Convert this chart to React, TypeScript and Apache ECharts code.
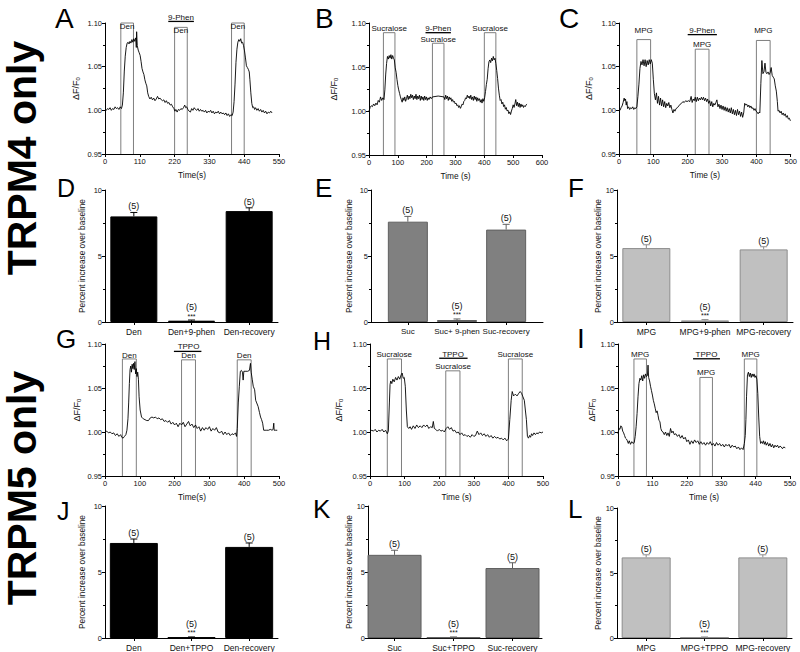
import React, { useEffect, useRef } from "react";
import * as echarts from "echarts";

const FONT = "'Liberation Sans', Arial, Helvetica, sans-serif";

// ---------- Calcium imaging traces: [time (s), ΔF/F0] ----------
const traceA = [[0,1.001],[4,1.000],[8,1.002],[12,1.001],[16,1.003],[20,1.000],[24,1.002],[28,1.001],[32,1.004],[36,1.002],[40,1.003],[44,1.001],[48,1.004],[52,1.002],[55,1.006],[58,1.020],[61,1.045],[64,1.062],[67,1.072],[70,1.077],[73,1.078],[76,1.076],[79,1.079],[82,1.077],[85,1.081],[88,1.078],[91,1.082],[94,1.079],[97,1.083],[99,1.072],[100,1.090],[102,1.074],[105,1.069],[108,1.066],[111,1.063],[114,1.056],[117,1.048],[120,1.044],[123,1.041],[126,1.035],[129,1.031],[132,1.028],[135,1.020],[138,1.016],[142,1.013],[146,1.015],[150,1.012],[154,1.014],[158,1.011],[162,1.013],[166,1.016],[170,1.013],[174,1.014],[178,1.012],[182,1.011],[186,1.012],[190,1.009],[194,1.011],[198,1.008],[202,1.009],[206,1.006],[210,1.007],[214,1.004],[218,1.002],[221,0.999],[224,1.001],[228,0.998],[232,1.001],[236,1.000],[240,1.002],[244,1.001],[248,1.003],[252,1.006],[255,1.003],[258,1.004],[262,1.001],[266,0.999],[270,0.998],[274,1.002],[278,1.000],[282,1.003],[286,1.001],[290,1.000],[294,1.002],[298,0.999],[302,1.001],[306,0.999],[310,1.000],[314,0.998],[318,1.000],[322,0.997],[326,0.999],[330,0.998],[334,1.000],[338,0.997],[342,0.999],[346,0.996],[350,0.998],[354,0.997],[358,0.999],[362,0.996],[366,0.998],[370,0.996],[374,0.997],[378,0.995],[382,0.997],[386,0.994],[390,0.996],[394,0.993],[398,0.995],[402,0.994],[405,0.998],[408,1.010],[411,1.030],[414,1.055],[417,1.070],[420,1.078],[423,1.081],[426,1.079],[429,1.082],[432,1.077],[435,1.078],[438,1.074],[441,1.068],[444,1.060],[447,1.051],[450,1.049],[453,1.047],[456,1.044],[458,1.035],[461,1.020],[464,1.008],[467,1.003],[470,1.004],[473,1.001],[476,1.003],[480,1.000],[484,1.002],[488,0.999],[492,1.001],[496,0.998],[500,1.000],[504,0.997],[508,0.999],[512,0.996],[516,0.998],[520,0.997],[524,0.999],[528,0.997]];

const traceB = [[0,1.000],[4,1.004],[8,1.006],[12,1.005],[16,1.008],[20,1.006],[24,1.009],[28,1.007],[32,1.012],[36,1.010],[40,1.016],[44,1.012],[48,1.015],[52,1.013],[55,1.024],[58,1.042],[61,1.054],[64,1.062],[67,1.059],[70,1.063],[73,1.060],[76,1.064],[79,1.059],[82,1.063],[85,1.060],[88,1.058],[91,1.049],[94,1.044],[97,1.036],[100,1.029],[103,1.024],[106,1.020],[109,1.016],[112,1.013],[115,1.010],[118,1.015],[121,1.012],[124,1.016],[127,1.011],[130,1.014],[133,1.018],[136,1.013],[139,1.017],[142,1.014],[145,1.019],[148,1.015],[151,1.018],[154,1.013],[157,1.017],[160,1.014],[163,1.019],[166,1.013],[169,1.017],[172,1.014],[175,1.018],[178,1.012],[181,1.017],[184,1.013],[187,1.016],[190,1.012],[193,1.017],[196,1.013],[199,1.016],[202,1.012],[205,1.015],[208,1.013],[212,1.016],[216,1.014],[220,1.016],[240,1.017],[260,1.016],[263,1.013],[266,1.018],[269,1.014],[272,1.017],[275,1.012],[278,1.016],[281,1.013],[284,1.015],[287,1.011],[290,1.013],[293,1.010],[296,1.011],[299,1.008],[302,1.009],[305,1.006],[308,1.007],[311,1.004],[314,1.006],[317,1.003],[320,1.005],[323,1.008],[326,1.007],[329,1.011],[332,1.012],[335,1.015],[338,1.014],[341,1.018],[344,1.015],[347,1.017],[350,1.014],[353,1.018],[356,1.013],[359,1.016],[362,1.012],[365,1.017],[368,1.013],[371,1.016],[374,1.011],[377,1.015],[380,1.012],[383,1.014],[386,1.010],[389,1.013],[392,1.009],[395,1.014],[398,1.011],[401,1.015],[404,1.022],[407,1.030],[410,1.036],[413,1.048],[416,1.056],[419,1.058],[422,1.055],[425,1.060],[428,1.057],[431,1.062],[434,1.058],[437,1.060],[440,1.054],[443,1.046],[446,1.037],[449,1.026],[452,1.018],[455,1.012],[458,1.013],[461,1.008],[464,1.010],[467,1.005],[470,1.007],[473,1.002],[476,1.004],[479,1.000],[482,1.001],[485,0.997],[488,0.999],[491,0.996],[494,1.000],[497,1.003],[500,1.007],[503,1.004],[506,1.008],[509,1.013],[512,1.006],[515,1.010],[518,1.005],[521,1.009],[524,1.004],[527,1.008],[530,1.005],[533,1.007],[536,1.004],[539,1.006],[542,1.005],[545,1.007],[548,1.008]];

const traceC = [[0,1.001],[3,1.000],[6,1.003],[9,1.005],[12,1.009],[15,1.014],[17,1.011],[19,1.013],[21,1.006],[23,1.010],[25,1.002],[28,1.004],[31,1.001],[34,1.003],[37,1.002],[40,1.004],[43,1.001],[46,1.003],[49,1.002],[52,1.004],[55,1.016],[58,1.030],[61,1.048],[64,1.056],[67,1.052],[70,1.058],[73,1.051],[76,1.058],[79,1.050],[82,1.057],[85,1.052],[88,1.058],[91,1.053],[94,1.058],[97,1.054],[100,1.035],[103,1.019],[106,1.012],[109,1.020],[112,1.008],[115,1.016],[118,1.006],[121,1.014],[124,1.005],[127,1.012],[130,1.004],[133,1.010],[136,1.003],[139,1.008],[142,1.005],[145,1.009],[148,1.003],[151,1.006],[154,1.001],[157,0.997],[160,1.001],[163,0.999],[166,1.002],[170,1.003],[174,1.005],[178,1.007],[182,1.008],[186,1.010],[190,1.009],[194,1.011],[198,1.010],[202,1.011],[206,1.010],[210,1.016],[213,1.009],[216,1.013],[219,1.011],[222,1.015],[225,1.010],[228,1.015],[231,1.011],[234,1.014],[237,1.012],[240,1.015],[243,1.012],[246,1.015],[249,1.011],[252,1.014],[255,1.010],[258,1.013],[261,1.008],[264,1.011],[267,1.005],[270,1.010],[273,1.004],[276,1.008],[279,1.006],[282,1.009],[285,1.012],[288,1.004],[291,1.007],[294,1.002],[297,1.006],[300,1.001],[303,1.005],[306,1.000],[309,1.004],[312,0.999],[315,1.003],[318,0.998],[321,1.002],[324,0.997],[327,1.003],[330,0.996],[333,1.001],[336,0.995],[339,1.000],[342,0.994],[345,1.001],[348,0.995],[351,0.999],[354,0.993],[357,0.998],[360,0.992],[363,0.997],[366,1.008],[369,1.006],[372,1.007],[375,1.004],[378,1.006],[381,1.003],[384,1.005],[387,1.002],[390,1.003],[393,1.000],[396,1.002],[399,0.999],[402,0.998],[405,0.996],[408,0.998],[410,0.997],[413,1.031],[416,1.057],[419,1.042],[422,1.044],[425,1.054],[428,1.043],[431,1.042],[434,1.044],[437,1.041],[440,1.043],[443,1.049],[446,1.040],[449,1.038],[452,1.036],[455,1.028],[458,1.022],[461,1.010],[463,0.999],[466,1.000],[469,0.997],[472,0.999],[475,0.995],[478,0.997],[481,0.994],[484,0.996],[487,0.992],[490,0.994],[493,0.990],[496,0.991],[499,0.988]];

const traceG = [[0,1.000],[5,1.001],[10,0.999],[15,1.000],[20,0.998],[25,0.999],[30,0.996],[35,0.998],[40,0.995],[45,0.997],[48,0.994],[52,0.993],[56,0.995],[60,0.997],[63,1.002],[66,1.015],[68,1.033],[70,1.055],[72,1.071],[74,1.075],[76,1.068],[78,1.077],[80,1.072],[82,1.078],[84,1.071],[86,1.080],[88,1.066],[90,1.072],[92,1.063],[94,1.068],[96,1.060],[98,1.040],[101,1.025],[105,1.017],[110,1.015],[115,1.014],[120,1.013],[125,1.013],[130,1.016],[135,1.017],[140,1.016],[145,1.017],[150,1.015],[155,1.016],[160,1.014],[165,1.015],[170,1.012],[175,1.013],[180,1.011],[185,1.013],[190,1.009],[195,1.011],[200,1.008],[205,1.010],[210,1.006],[215,1.010],[220,1.008],[225,1.011],[230,1.006],[235,1.009],[240,1.012],[245,1.007],[250,1.009],[255,1.005],[260,1.008],[265,1.004],[270,1.006],[275,1.001],[280,1.005],[285,1.002],[290,1.005],[295,1.003],[300,1.006],[305,1.001],[310,1.004],[315,1.002],[320,1.005],[325,1.000],[330,0.999],[335,1.001],[340,0.997],[345,1.000],[350,0.997],[355,0.999],[360,0.996],[365,0.998],[370,0.997],[375,0.999],[378,0.995],[380,1.004],[383,1.033],[386,1.052],[389,1.069],[392,1.070],[395,1.068],[397,1.059],[399,1.069],[405,1.069],[410,1.069],[415,1.070],[418,1.078],[420,1.068],[423,1.060],[426,1.052],[430,1.048],[433,1.036],[436,1.033],[440,1.029],[444,1.022],[447,1.017],[450,1.014],[453,1.010],[456,1.002],[460,1.002],[465,1.002],[470,1.002],[475,1.003],[480,1.002],[483,1.003],[485,1.010],[486,1.002],[490,1.002],[495,1.002]];

const traceH = [[0,1.000],[5,1.002],[10,1.001],[15,1.003],[20,1.000],[25,1.002],[30,1.001],[35,1.003],[40,1.000],[45,1.002],[50,0.998],[53,1.001],[56,1.033],[58,1.054],[60,1.058],[63,1.055],[66,1.060],[70,1.057],[74,1.062],[78,1.059],[82,1.063],[86,1.060],[90,1.065],[93,1.067],[96,1.061],[99,1.062],[102,1.052],[105,1.025],[108,1.006],[112,1.004],[116,1.006],[120,1.003],[125,1.007],[130,1.004],[135,1.008],[140,1.005],[145,1.007],[150,1.005],[155,1.008],[160,1.006],[165,1.008],[170,1.004],[175,1.006],[180,1.005],[183,1.012],[186,1.004],[190,1.003],[195,1.001],[200,1.003],[205,1.001],[210,1.002],[215,1.000],[220,1.004],[225,1.006],[230,1.003],[235,1.005],[240,1.001],[245,1.002],[250,0.999],[255,1.000],[260,0.997],[265,0.999],[270,0.996],[275,0.997],[280,0.995],[285,0.996],[290,0.994],[295,0.997],[300,0.995],[305,0.996],[310,1.001],[315,0.997],[320,0.999],[325,0.996],[330,0.998],[335,0.995],[340,0.997],[345,0.994],[350,0.996],[355,0.993],[360,0.995],[365,0.993],[370,0.994],[375,0.992],[380,0.993],[385,0.991],[390,0.993],[395,0.990],[400,0.992],[404,1.014],[408,1.036],[411,1.046],[415,1.041],[420,1.043],[425,1.041],[430,1.044],[434,1.046],[438,1.044],[442,1.040],[446,1.036],[449,1.025],[452,1.014],[455,0.995],[458,0.993],[461,0.996],[464,0.994],[467,0.998],[470,0.996],[474,0.999],[478,0.997],[482,0.999],[486,0.998],[490,1.000],[495,0.999],[500,1.000]];

const traceI = [[0,0.998],[3,1.004],[6,1.003],[9,1.007],[12,1.006],[15,1.001],[18,0.999],[21,0.996],[24,0.993],[27,0.992],[30,0.990],[33,0.987],[36,0.990],[40,0.986],[44,0.989],[48,0.987],[52,0.988],[55,0.995],[58,1.006],[61,1.021],[64,1.040],[67,1.055],[70,1.061],[73,1.059],[76,1.064],[79,1.058],[82,1.065],[85,1.061],[88,1.066],[91,1.063],[94,1.064],[96,1.076],[98,1.062],[101,1.058],[104,1.052],[107,1.047],[110,1.042],[113,1.036],[116,1.032],[119,1.027],[122,1.022],[125,1.024],[128,1.019],[131,1.013],[134,1.012],[137,1.004],[140,1.001],[144,1.000],[148,0.997],[152,1.000],[156,0.996],[160,0.999],[164,0.995],[168,1.004],[172,0.999],[176,1.001],[180,0.997],[185,0.998],[190,0.995],[195,0.997],[200,0.993],[205,0.996],[210,0.992],[215,0.994],[220,0.989],[225,0.991],[230,0.986],[235,0.990],[240,0.987],[245,0.991],[250,0.988],[255,0.990],[260,0.986],[265,0.989],[270,0.986],[275,0.988],[280,0.985],[285,0.988],[290,0.986],[295,0.989],[300,0.985],[305,0.987],[310,0.984],[315,0.988],[320,0.985],[325,0.987],[330,0.984],[335,0.986],[340,0.983],[345,0.986],[350,0.984],[355,0.986],[360,0.982],[365,0.985],[370,0.983],[375,0.984],[380,0.981],[385,0.983],[390,0.980],[395,0.982],[400,0.980],[404,0.987],[407,0.996],[409,1.014],[411,1.040],[414,1.065],[417,1.068],[420,1.063],[423,1.067],[426,1.062],[429,1.066],[432,1.063],[435,1.066],[438,1.062],[441,1.064],[444,1.060],[447,1.044],[450,1.017],[453,0.995],[456,0.987],[459,0.989],[462,0.987],[465,0.990],[468,0.986],[471,0.989],[474,0.985],[478,0.988],[482,0.984],[486,0.987],[490,0.983],[494,0.986],[498,0.982],[502,0.985],[506,0.983],[510,0.985],[514,0.982],[518,0.984],[522,0.983],[526,0.981],[530,0.983],[535,0.982]];

// stimulus boxes: [start s, end s, top ΔF/F0]
const boxesA = [[50, 90, 1.1], [220, 260, 1.095], [400, 440, 1.1]];
const boxesB = [[50, 90, 1.089], [220, 260, 1.077], [400, 440, 1.089]];
const boxesC = [[52, 92, 1.081], [222, 262, 1.07], [400, 440, 1.08]];
const boxesG = [[50, 90, 1.083], [220, 260, 1.082], [380, 420, 1.082]];
const boxesH = [[50, 91, 1.083], [219, 260, 1.0695], [400, 440, 1.083]];
const boxesI = [[51, 91, 1.083], [262, 302, 1.062], [404, 444, 1.083]];

// box labels: [text, time, ΔF/F0]
const labelsA = [["Den", 70, 1.0962], ["9-Phen", 240, 1.1065], ["Den", 240, 1.0915], ["Den", 420, 1.0962]];
const labelsB = [["Sucralose", 70, 1.0935], ["9-Phen", 240, 1.0935], ["Sucralose", 240, 1.0815], ["Sucralose", 420, 1.0935]];
const labelsC = [["MPG", 72, 1.0916], ["9-Phen", 242, 1.0916], ["MPG", 242, 1.0755], ["MPG", 420, 1.0916]];
const labelsG = [["Den", 70, 1.0865], ["TPPO", 240, 1.0973], ["Den", 240, 1.0865], ["Den", 400, 1.0865]];
const labelsH = [["Sucralose", 70, 1.0886], ["TPPO", 240, 1.0886], ["Sucralose", 240, 1.0745], ["Sucralose", 420, 1.0886]];
const labelsI = [["MPG", 71, 1.0886], ["TPPO", 283, 1.0886], ["MPG", 282, 1.0675], ["MPG", 424, 1.0886]];

// blocker bars: [start s, end s, ΔF/F0]
const blockerA = [200, 281, 1.1018];
const blockerB = [196, 284, 1.089];
const blockerC = [200, 285, 1.0867];
const blockerG = [198, 277, 1.0916];
const blockerH = [200, 282, 1.0838];
const blockerI = [240, 326, 1.0832];

// ---------- Summary bars ----------
const catsD = ["Den", "Den+9-phen", "Den-recovery"];
const meanD = [8.0, 0.1, 8.4];
const semD = [0.3, 0.05, 0.25];
const catsE = ["Suc", "Suc+ 9-phen", "Suc-recovery"];
const meanE = [7.6, 0.15, 7.0];
const semE = [0.4, 0.08, 0.4];
const catsF = ["MPG", "MPG+9-phen", "MPG-recovery"];
const meanF = [5.6, 0.12, 5.5];
const semF = [0.25, 0.06, 0.2];
const catsJ = ["Den", "Den+TPPO", "Den-recovery"];
const meanJ = [7.2, 0.05, 6.9];
const semJ = [0.3, 0.03, 0.3];
const catsK = ["Suc", "Suc+TPPO", "Suc-recovery"];
const meanK = [6.3, 0.05, 5.3];
const semK = [0.35, 0.03, 0.4];
const catsL = ["MPG", "MPG+TPPO", "MPG-recovery"];
const meanL = [6.2, 0.05, 6.2];
const semL = [0.2, 0.03, 0.2];
const nLabel = "(5)";
const sigLabel = "***";
const sigIndex = 1;

const traceYTicks = { min: 0.95, max: 1.1, step: 0.05 };
const barYTicks = { min: 0, max: 10, step: 5 };

const tracePanels = [
  { grid: { left: 105, top: 23, width: 174, height: 131 }, data: traceA, boxes: boxesA, labels: labelsA, blocker: blockerA, xMax: 550, xStep: 110, xName: "Time(s)", yGap: 24 },
  { grid: { left: 369, top: 23, width: 173, height: 132 }, data: traceB, boxes: boxesB, labels: labelsB, blocker: blockerB, xMax: 600, xStep: 100, xName: "Time (s)", yGap: 30 },
  { grid: { left: 619, top: 23, width: 174, height: 131 }, data: traceC, boxes: boxesC, labels: labelsC, blocker: blockerC, xMax: 500, xStep: 100, xName: "Time (s)", yGap: 25 },
  { grid: { left: 105, top: 344, width: 174, height: 132 }, data: traceG, boxes: boxesG, labels: labelsG, blocker: blockerG, xMax: 500, xStep: 100, xName: "Time(s)", yGap: 23 },
  { grid: { left: 370, top: 344, width: 173, height: 132 }, data: traceH, boxes: boxesH, labels: labelsH, blocker: blockerH, xMax: 500, xStep: 100, xName: "Time (s)", yGap: 26 },
  { grid: { left: 618, top: 344, width: 172, height: 132 }, data: traceI, boxes: boxesI, labels: labelsI, blocker: blockerI, xMax: 550, xStep: 110, xName: "Time (s)", yGap: 20 },
];

const barPanels = [
  { grid: { left: 105, top: 190, width: 173, height: 132 }, cats: catsD, mean: meanD, sem: semD, min: 0.5, max: 3.5, w: 47, fill: "#000000", edge: "#000000", yGap: 19, xFont: 8.5 },
  { grid: { left: 371, top: 190, width: 172, height: 132 }, cats: catsE, mean: meanE, sem: semE, min: 0.25, max: 3.75, w: 40, fill: "#808080", edge: "#5f5f5f", yGap: 18, xFont: 8 },
  { grid: { left: 617, top: 190, width: 176, height: 132 }, cats: catsF, mean: meanF, sem: semF, min: 0.5, max: 3.5, w: 48, fill: "#c0c0c0", edge: "#8c8c8c", yGap: 14, xFont: 8.5 },
  { grid: { left: 105, top: 506, width: 173, height: 132 }, cats: catsJ, mean: meanJ, sem: semJ, min: 0.5, max: 3.5, w: 48, fill: "#000000", edge: "#000000", yGap: 19, xFont: 8.5 },
  { grid: { left: 368, top: 506, width: 174, height: 132 }, cats: catsK, mean: meanK, sem: semK, min: 0.55, max: 3.5, w: 54, fill: "#808080", edge: "#5f5f5f", yGap: 15, xFont: 8.5 },
  { grid: { left: 617, top: 508, width: 175, height: 131 }, cats: catsL, mean: meanL, sem: semL, min: 0.5, max: 3.5, w: 49, fill: "#c0c0c0", edge: "#8c8c8c", yGap: 15, xFont: 8.5 },
];

const panelLetters = [
  { t: "A", x: 55, y: 18, s: 28 }, { t: "B", x: 315, y: 18, s: 28 }, { t: "C", x: 559, y: 18, s: 28 },
  { t: "D", x: 57, y: 188, s: 25 }, { t: "E", x: 315, y: 188, s: 26 }, { t: "F", x: 568, y: 188, s: 26 },
  { t: "G", x: 56, y: 339, s: 26 }, { t: "H", x: 313, y: 341, s: 25 }, { t: "I", x: 577, y: 338, s: 28 },
  { t: "J", x: 57, y: 511, s: 25 }, { t: "K", x: 313, y: 509, s: 26 }, { t: "L", x: 568, y: 509, s: 26 },
];
const sideTitles = [{ t: "TRPM4 only", x: 22, y: 158 }, { t: "TRPM5 only", x: 22, y: 488 }];

const TXT = "#111111";

function buildOption() {
  const grid: any[] = [];
  const xAxis: any[] = [];
  const yAxis: any[] = [];
  const series: any[] = [];
  let idx = 0;

  tracePanels.forEach((p) => {
    const i = idx++;
    grid.push({ ...p.grid, containLabel: false });
    xAxis.push({
      type: "value", gridIndex: i, min: 0, max: p.xMax, interval: p.xStep,
      name: p.xName, nameLocation: "middle", nameGap: 17,
      nameTextStyle: { fontSize: 8.3, fontFamily: FONT, color: TXT },
      axisLine: { show: true, onZero: false, lineStyle: { color: "#000", width: 1 } },
      axisTick: { show: true, length: 3, lineStyle: { color: "#000", width: 1 } },
      axisLabel: { fontSize: 7.5, fontFamily: FONT, color: TXT, margin: 3 },
      splitLine: { show: false },
    });
    yAxis.push({
      type: "value", gridIndex: i, min: traceYTicks.min, max: traceYTicks.max, interval: traceYTicks.step,
      name: "ΔF/F{s|0}", nameLocation: "middle", nameGap: p.yGap,
      nameTextStyle: { fontSize: 9, fontFamily: FONT, color: TXT, rich: { s: { fontSize: 6, fontFamily: FONT, color: TXT, verticalAlign: "bottom", padding: [4, 0, 0, 0] } } },
      axisLine: { show: true, onZero: false, lineStyle: { color: "#000", width: 1 } },
      axisTick: { show: true, length: 3, lineStyle: { color: "#000", width: 1 } },
      minorTick: { show: true, splitNumber: 2, length: 2, lineStyle: { color: "#000", width: 1 } },
      axisLabel: { fontSize: 7.5, fontFamily: FONT, color: TXT, margin: 3, formatter: (v: number) => v.toFixed(2) },
      splitLine: { show: false },
    });
    series.push({
      type: "line", xAxisIndex: i, yAxisIndex: i, data: p.data, symbol: "none", silent: true,
      lineStyle: { color: "#000", width: 0.9 }, z: 4,
    });
    p.boxes.forEach((b) => {
      series.push({
        type: "line", xAxisIndex: i, yAxisIndex: i, symbol: "none", silent: true, clip: false,
        data: [[b[0], traceYTicks.min], [b[0], b[2]], [b[1], b[2]], [b[1], traceYTicks.min]],
        lineStyle: { color: "#707070", width: 0.9 }, z: 3,
      });
    });
    series.push({
      type: "line", xAxisIndex: i, yAxisIndex: i, symbol: "none", silent: true, clip: false,
      data: [[p.blocker[0], p.blocker[2]], [p.blocker[1], p.blocker[2]]],
      lineStyle: { color: "#000", width: 1.3 }, z: 3,
    });
  });

  barPanels.forEach((p) => {
    const i = idx++;
    grid.push({ ...p.grid, containLabel: false });
    xAxis.push({
      type: "value", gridIndex: i, min: p.min, max: p.max,
      axisLine: { show: true, onZero: false, lineStyle: { color: "#000", width: 1 } },
      axisTick: { show: true, length: 3, customValues: [1, 2, 3], lineStyle: { color: "#000", width: 1 } },
      axisLabel: { fontSize: p.xFont, fontFamily: FONT, color: TXT, margin: 5, customValues: [1, 2, 3], formatter: (v: number) => p.cats[Math.round(v) - 1] || "" },
      splitLine: { show: false },
    });
    yAxis.push({
      type: "value", gridIndex: i, min: barYTicks.min, max: barYTicks.max, interval: barYTicks.step,
      name: "Percent increase over baseline", nameLocation: "middle", nameGap: p.yGap,
      nameTextStyle: { fontSize: 8.3, fontFamily: FONT, color: TXT },
      axisLine: { show: true, onZero: false, lineStyle: { color: "#000", width: 1 } },
      axisTick: { show: true, length: 3, lineStyle: { color: "#000", width: 1 } },
      minorTick: { show: true, splitNumber: 2, length: 2, lineStyle: { color: "#000", width: 1 } },
      axisLabel: { fontSize: 7.5, fontFamily: FONT, color: TXT, margin: 3 },
      splitLine: { show: false },
    });
    series.push({
      type: "bar", xAxisIndex: i, yAxisIndex: i, barWidth: p.w, silent: true,
      data: p.mean.map((m, j) => [j + 1, m]),
      itemStyle: { color: p.fill, borderColor: p.edge, borderWidth: 1 }, z: 2,
    });
    series.push({
      type: "custom", xAxisIndex: i, yAxisIndex: i, silent: true, z: 3,
      data: p.mean.map((m, j) => [j + 1, m, p.sem[j]]),
      encode: { x: 0, y: 1 },
      renderItem: (_params: any, api: any) => {
        const x = api.value(0), y = api.value(1), e = api.value(2);
        const base = api.coord([x, y]);
        const top = api.coord([x, y + e]);
        const st = { stroke: p.edge, lineWidth: 1 };
        return {
          type: "group",
          children: [
            { type: "line", shape: { x1: base[0], y1: base[1], x2: top[0], y2: top[1] }, style: st },
            { type: "line", shape: { x1: top[0] - 3.5, y1: top[1], x2: top[0] + 3.5, y2: top[1] }, style: st },
          ],
        };
      },
    });
  });

  return { animation: false, backgroundColor: "#ffffff", grid, xAxis, yAxis, series };
}

function buildGraphic(chart: any) {
  const graphic: any[] = [];
  const txt = (text: string, x: number, y: number, size: number, extra: any = {}) => ({
    type: "text", x, y, silent: true, z: 10,
    style: { text, fontSize: size, fontFamily: FONT, fill: "#000", align: "center", verticalAlign: "middle", ...extra },
  });
  tracePanels.forEach((p, i) => {
    p.labels.forEach((l) => {
      const pt = chart.convertToPixel({ xAxisIndex: i, yAxisIndex: i }, [l[1], l[2]]);
      graphic.push(txt(String(l[0]), pt[0], pt[1], 8, { fill: TXT }));
    });
  });
  barPanels.forEach((p, k) => {
    const i = tracePanels.length + k;
    p.mean.forEach((m, j) => {
      const pt = chart.convertToPixel({ xAxisIndex: i, yAxisIndex: i }, [j + 1, m + p.sem[j]]);
      if (j === sigIndex) {
        graphic.push(txt(nLabel, pt[0], pt[1] - 13, 9, { fill: TXT }));
        graphic.push(txt(sigLabel, pt[0], pt[1] - 4, 7, { fill: TXT }));
      } else {
        graphic.push(txt(nLabel, pt[0], pt[1] - 6, 9, { fill: TXT }));
      }
    });
  });
  panelLetters.forEach((l) => {
    graphic.push(txt(l.t, l.x, l.y, l.s, { align: "left" }));
  });
  sideTitles.forEach((s) => {
    graphic.push({
      type: "text", x: s.x, y: s.y, rotation: Math.PI / 2, silent: true,
      style: { text: s.t, fontSize: 41, fontWeight: "bold", fontFamily: FONT, fill: "#000", align: "center", verticalAlign: "middle" },
    });
  });
  return graphic;
}

export default function App() {
  const ref = useRef<HTMLDivElement>(null);
  useEffect(() => {
    document.body.style.margin = "0";
    if (!ref.current) return;
    const chart = echarts.init(ref.current, null, { renderer: "svg" });
    chart.setOption(buildOption() as any);
    chart.setOption({ graphic: buildGraphic(chart) } as any);
    return () => chart.dispose();
  }, []);
  return <div ref={ref} style={{ width: 800, height: 652, position: "absolute", left: 0, top: 0 }} />;
}
